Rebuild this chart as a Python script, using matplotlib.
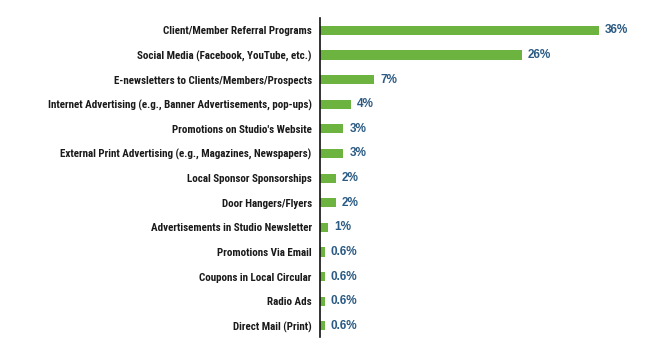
import matplotlib
matplotlib.use("Agg")
import matplotlib.pyplot as plt

# Survey data, top to bottom
categories = [
    "Client/Member Referral Programs",
    "Social Media (Facebook, YouTube, etc.)",
    "E-newsletters to Clients/Members/Prospects",
    "Internet Advertising (e.g., Banner Advertisements, pop-ups)",
    "Promotions on Studio's Website",
    "External Print Advertising (e.g., Magazines, Newspapers)",
    "Local Sponsor Sponsorships",
    "Door Hangers/Flyers",
    "Advertisements in Studio Newsletter",
    "Promotions Via Email",
    "Coupons in Local Circular",
    "Radio Ads",
    "Direct Mail (Print)",
]
values = [36, 26, 7, 4, 3, 3, 2, 2, 1, 0.6, 0.6, 0.6, 0.6]
value_labels = ["36%", "26%", "7%", "4%", "3%", "3%", "2%", "2%", "1%",
                "0.6%", "0.6%", "0.6%", "0.6%"]

BAR_COLOR = "#6db33f"
VALUE_COLOR = "#2b5b84"

fig = plt.figure(figsize=(6.56, 3.56), dpi=100)
ax = fig.add_axes([320 / 656, 19 / 356, 320 / 656, 319 / 356])

ypos = list(range(len(categories)))
ax.barh(ypos, values, height=0.37, color=BAR_COLOR)
ax.set_ylim(12.45, -0.5)
ax.set_xlim(0, 320 / 7.75)

# percentage labels just past the bar ends
for y, v, lab in zip(ypos, values, value_labels):
    ax.text(v + 0.8, y, lab, va="center", ha="left", color=VALUE_COLOR,
            fontsize=8.5, fontweight="bold", family=["Liberation Sans", "DejaVu Sans"])

ax.set_yticks(ypos)
ax.set_yticklabels(categories, fontsize=7.9, fontweight="bold",
                   family=["Roboto Condensed", "DejaVu Sans"], color="#1a1a1a")
ax.tick_params(axis="y", length=0, pad=6)
ax.set_xticks([])

for side in ("top", "right", "bottom"):
    ax.spines[side].set_visible(False)
ax.spines["left"].set_linewidth(1.2)
ax.spines["left"].set_color("#111111")

fig.savefig("out.png", dpi=100)
